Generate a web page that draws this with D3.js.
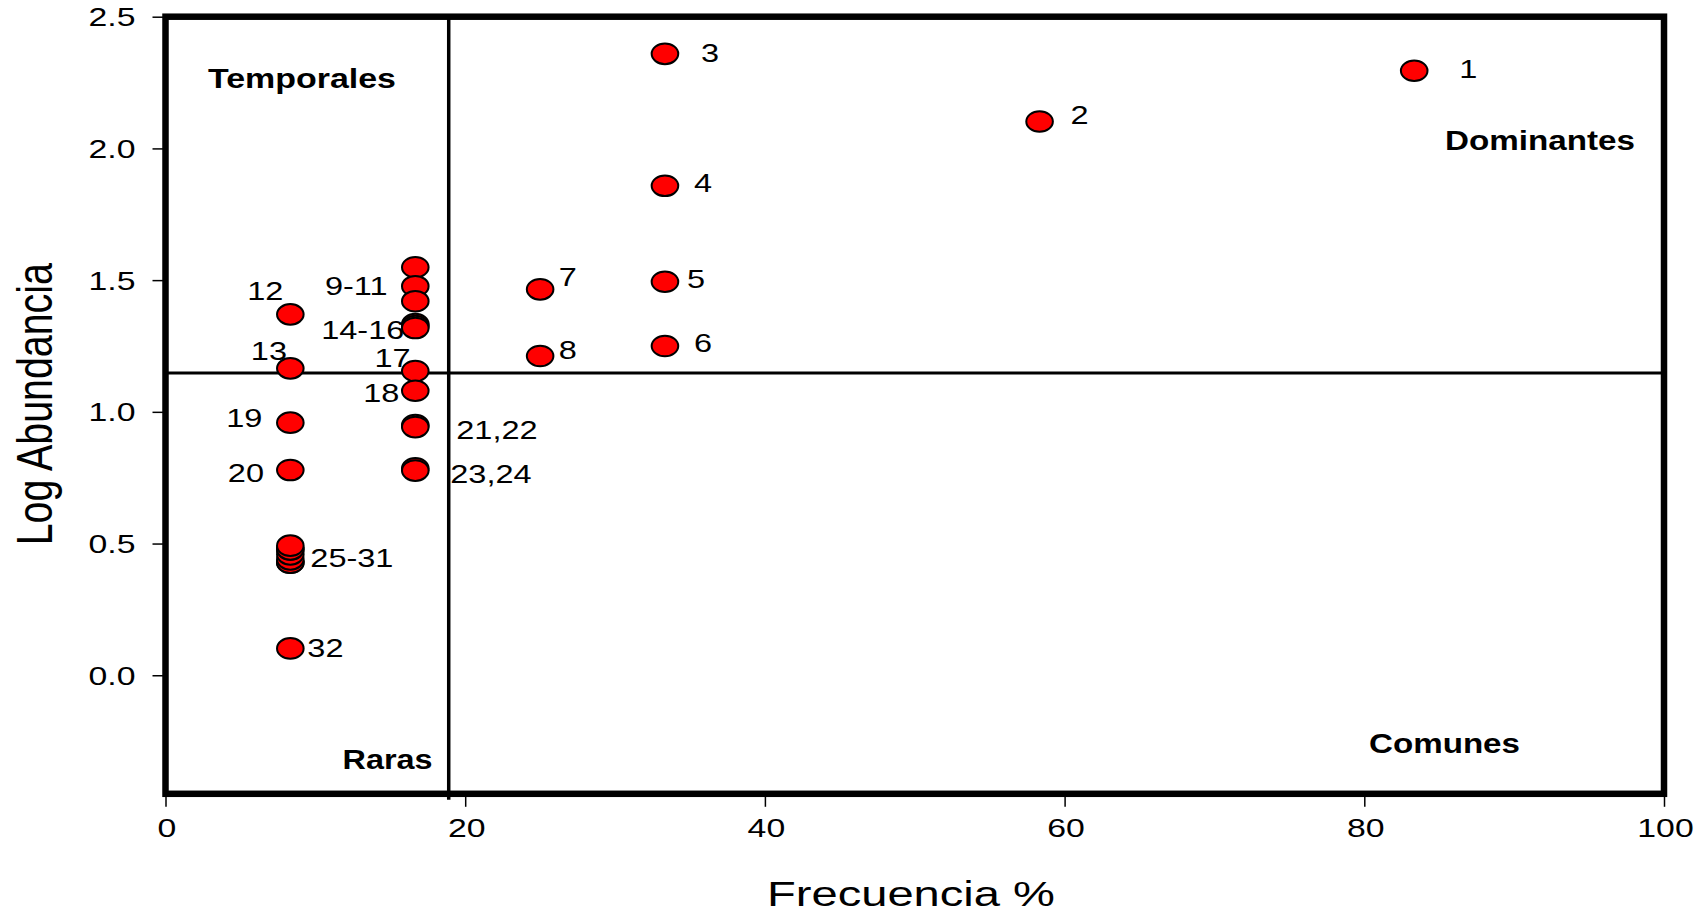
<!DOCTYPE html>
<html><head><meta charset="utf-8">
<script src="https://cdn.jsdelivr.net/npm/d3@7"></script>
<style>
body{margin:0;background:#fff}
svg{display:block}
text{font-family:"Liberation Sans",Arial,sans-serif;fill:#000}
</style>
</head><body>
<svg id="chart" width="1705" height="915"></svg>
<script>
// ---------------- data ----------------
const species = ["1","2","3","4","5","6","7","8","9","10","11","12","13","14","15","16",
                 "17","18","19","20","21","22","23","24","25","26","27","28","29","30","31","32"];
const frecuencia = [83.33, 58.33, 33.33, 33.33, 33.33, 33.33, 25, 25,
                    16.67, 16.67, 16.67, 8.33, 8.33, 16.67, 16.67, 16.67,
                    16.67, 16.67, 8.33, 8.33, 16.67, 16.67, 16.67, 16.67,
                    8.33, 8.33, 8.33, 8.33, 8.33, 8.33, 8.33, 8.33];
const logAbundancia = [2.295, 2.102, 2.359, 1.858, 1.494, 1.250, 1.465, 1.212,
                       1.549, 1.477, 1.420, 1.370, 1.165, 1.333, 1.326, 1.318,
                       1.155, 1.080, 0.959, 0.779, 0.950, 0.942, 0.786, 0.777,
                       0.427, 0.427, 0.440, 0.459, 0.478, 0.478, 0.492, 0.102];
const xTicks = [0, 20, 40, 60, 80, 100];
const yTicks = [0.0, 0.5, 1.0, 1.5, 2.0, 2.5];
const xDomain = [0, 100];
const yDomain = [-0.45, 2.5];
const cutFrecuencia = 18.9;
const cutAbundancia = 1.147;
const xTitle = "Frecuencia %";
const yTitle = "Log Abundancia";
const quadrantNames = ["Temporales", "Dominantes", "Comunes", "Raras"];
const labelTexts = ["1","2","3","4","5","6","7","8","9-11","12","13","14-16","17","18",
                    "19","20","21,22","23,24","25-31","32"];
const labelRefs  = ["1","2","3","4","5","6","7","8","10","12","13","15","17","18",
                    "19","20","21","23","31","32"];

// ---------------- layout (pixels) ----------------
const W = 1705, H = 915;
const xRange = [165.5, 1664];
const yRange = [793.8, 16.7];
const textStretch = 1.3;
const labelLayout = [
  {dx: 45, dy: 7.5, a: "start"},    // 1
  {dx: 31, dy: 2.5, a: "start"},    // 2
  {dx: 36, dy: 8.4, a: "start"},    // 3
  {dx: 29, dy: 6, a: "start"},      // 4
  {dx: 22, dy: 6.5, a: "start"},    // 5
  {dx: 29, dy: 6, a: "start"},      // 6
  {dx: 18.5, dy: -3.5, a: "start"}, // 7
  {dx: 18.5, dy: 3.3, a: "start"},  // 8
  {dx: -27.7, dy: 9, a: "end"},     // 9-11
  {dx: -7, dy: -14.4, a: "end"},    // 12
  {dx: -3.3, dy: -8.4, a: "end"},   // 13
  {dx: -11, dy: 13.5, a: "end"},    // 14-16
  {dx: -4.7, dy: -4.4, a: "end"},   // 17
  {dx: -16, dy: 11, a: "end"},      // 18
  {dx: -28, dy: 4.6, a: "end"},     // 19
  {dx: -26.3, dy: 11.6, a: "end"},  // 20
  {dx: 41, dy: 14, a: "start"},     // 21,22
  {dx: 35, dy: 14.7, a: "start"},   // 23,24
  {dx: 20, dy: 21, a: "start"},     // 25-31
  {dx: 17, dy: 8.4, a: "start"}     // 32
];
const quadrantLayout = [
  {x: 208, y: 88.3, len: 188},
  {x: 1445, y: 150, len: 190},
  {x: 1369, y: 753, len: 151},
  {x: 342.5, y: 769, len: 90}
];

const svg = d3.select("#chart");
svg.append("rect").attr("width", W).attr("height", H).attr("fill", "#fff");

const x = d3.scaleLinear().domain(xDomain).range(xRange);
const y = d3.scaleLinear().domain(yDomain).range(yRange);

const points = species.map((s, i) => ({id: s, f: frecuencia[i], v: logAbundancia[i]}));
const byId = new Map(points.map(p => [p.id, p]));

// axes
const yAxis = svg.append("g")
  .attr("transform", `translate(${x(xDomain[0])},0)`)
  .call(d3.axisLeft(y).tickValues(yTicks).tickSize(13).tickFormat(d3.format(".1f")));
yAxis.select(".domain").remove();
yAxis.selectAll(".tick line").attr("stroke", "#000").attr("stroke-width", 1.5);
yAxis.selectAll(".tick text")
  .attr("x", null).attr("dy", null)
  .attr("text-anchor", "end")
  .attr("font-size", 26)
  .attr("font-family", "Liberation Sans, Arial, sans-serif")
  .attr("transform", `translate(-30,9) scale(${textStretch},1)`);

const xAxis = svg.append("g")
  .attr("transform", `translate(0,${y(yDomain[0])})`)
  .call(d3.axisBottom(x).tickValues(xTicks).tickSize(13).tickFormat(d3.format("d")));
xAxis.select(".domain").remove();
xAxis.selectAll(".tick line").attr("stroke", "#000").attr("stroke-width", 1.5);
xAxis.selectAll(".tick text")
  .attr("y", null).attr("dy", null)
  .attr("text-anchor", "middle")
  .attr("font-size", 26)
  .attr("font-family", "Liberation Sans, Arial, sans-serif")
  .attr("transform", `translate(1,43) scale(${textStretch},1)`);

// reference lines
svg.append("line")
  .attr("x1", x(cutFrecuencia)).attr("x2", x(cutFrecuencia))
  .attr("y1", y(yDomain[1])).attr("y2", y(yDomain[0]) + 6)
  .attr("stroke", "#000").attr("stroke-width", 3.5);
svg.append("line")
  .attr("x1", x(xDomain[0])).attr("x2", x(xDomain[1]))
  .attr("y1", y(cutAbundancia)).attr("y2", y(cutAbundancia))
  .attr("stroke", "#000").attr("stroke-width", 3);

// frame
svg.append("rect")
  .attr("x", x(xDomain[0])).attr("y", y(yDomain[1]))
  .attr("width", x(xDomain[1]) - x(xDomain[0]))
  .attr("height", y(yDomain[0]) - y(yDomain[1]))
  .attr("fill", "none").attr("stroke", "#000").attr("stroke-width", 6.5);

// quadrant names
svg.append("g").selectAll("text").data(quadrantNames).join("text")
  .attr("x", (d, i) => quadrantLayout[i].x)
  .attr("y", (d, i) => quadrantLayout[i].y)
  .attr("font-size", 27).attr("font-weight", "bold")
  .attr("textLength", (d, i) => quadrantLayout[i].len)
  .attr("lengthAdjust", "spacingAndGlyphs")
  .text(d => d);

// point labels
svg.append("g").selectAll("g").data(labelTexts).join("g")
  .attr("transform", (d, i) => {
    const p = byId.get(labelRefs[i]);
    const L = labelLayout[i];
    return `translate(${x(p.f) + L.dx},${y(p.v) + L.dy})`;
  })
  .append("text")
  .attr("text-anchor", (d, i) => labelLayout[i].a)
  .attr("font-size", 25)
  .attr("transform", `scale(${textStretch},1)`)
  .text(d => d);

// points
svg.append("g").selectAll("ellipse").data(points).join("ellipse")
  .attr("cx", d => x(d.f)).attr("cy", d => y(d.v))
  .attr("rx", 13.3).attr("ry", 10.3)
  .attr("fill", "#ff0000").attr("stroke", "#000").attr("stroke-width", 2);

// axis titles
svg.append("text")
  .attr("x", 767).attr("y", 906)
  .attr("font-size", 35)
  .attr("textLength", 288).attr("lengthAdjust", "spacingAndGlyphs")
  .text(xTitle);
svg.append("text")
  .attr("transform", `translate(52,${(y(yDomain[0]) + y(yDomain[1])) / 2 - 1}) rotate(-90) scale(1,${textStretch})`)
  .attr("text-anchor", "middle")
  .attr("font-size", 38)
  .attr("textLength", 282).attr("lengthAdjust", "spacingAndGlyphs")
  .text(yTitle);
</script>
</body></html>
